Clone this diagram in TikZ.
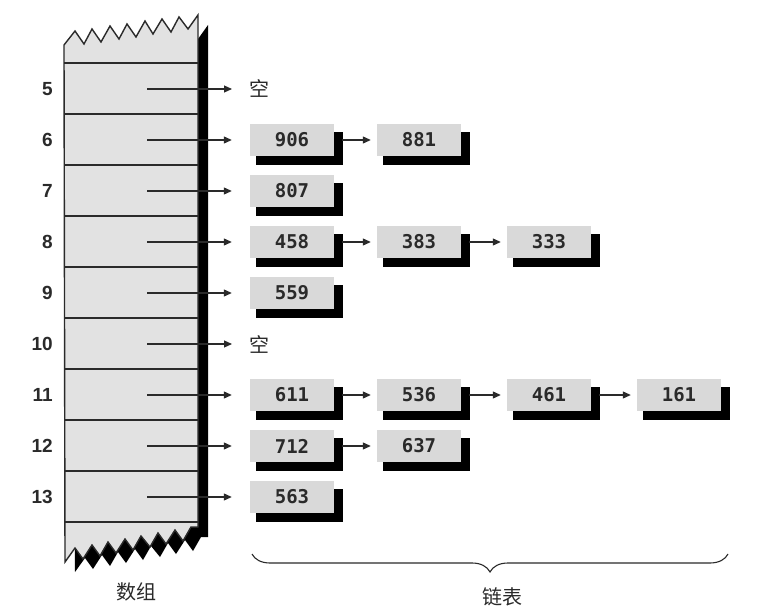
\documentclass[tikz,border=0pt]{standalone}
\usepackage{fontspec}
\usetikzlibrary{arrows.meta,shadows,decorations.pathreplacing}
\newfontfamily\boxfont{DejaVu Sans Mono}
\newfontfamily\numfont{Liberation Sans}
\newfontfamily\cjk{Noto Sans CJK SC}
\definecolor{ink}{HTML}{2A2A2A}
\definecolor{cellgray}{HTML}{E2E2E2}
\definecolor{boxgray}{HTML}{D9D9D9}
\tikzset{
  arr/.style={draw=ink, line width=1.1pt, -{Triangle[length=8pt,width=7pt]}},
  listbox/.style={fill=boxgray, minimum width=84pt, minimum height=32pt, inner sep=0pt,
    text=ink, font=\boxfont\bfseries\fontsize{19}{22}\selectfont,
    drop shadow={shadow xshift=7pt, shadow yshift=-8pt, shadow scale=1.04, fill=black, opacity=1}},
  idx/.style={text=ink, font=\numfont\bfseries\fontsize{19}{22}\selectfont, inner sep=0pt, anchor=east},
  nul/.style={text=ink, font=\cjk\fontsize{20}{24}\selectfont, inner sep=0pt, anchor=west},
  caplabel/.style={text=ink, font=\cjk\fontsize{20}{24}\selectfont, inner sep=0pt},
  rowline/.style={draw=ink, line width=1.4pt},
  arrayshape/.style={line width=1.4pt, line join=miter}
}
\begin{document}
\begin{tikzpicture}[x=1pt,y=-1pt]
\useasboundingbox[fill=white] (0,0) rectangle (774,615);
\def\arraypath{(64,45) -- (75,31) -- (84,44) -- (92,29) -- (101,42) -- (110,26) -- (119,39) -- (127,24) -- (136,37) -- (145,21) -- (153,34) -- (162,19) -- (171,32) -- (179,17) -- (188,29) -- (198,15) -- (198,527) -- (191,527) -- (183,541) -- (175,530) -- (166,544) -- (158,533) -- (150,547) -- (141,536) -- (133,550) -- (125,539) -- (116,553) -- (108,542) -- (100,556) -- (92,545) -- (83,559) -- (75,548) -- (65,562) -- cycle}
% shadow of the array
\begin{scope}
  \clip (198,0) -- (260,0) -- (260,615) -- (0,615) -- (0,480) -- (198,480) -- cycle;
  \fill[black, xshift=10pt, yshift=-10pt] \arraypath;
\end{scope}
% array body
\filldraw[arrayshape, fill=cellgray, draw=ink] \arraypath;
\foreach \yy in {63,114,165,216,267,318,369,420,471,522}
  \draw[rowline] (64,\yy) -- (198,\yy);

% index labels and arrow starts
\foreach \n/\c in {5/89,6/140,7/191,8/242,9/293,10/344,11/395,12/446,13/497}{
  \node[idx] (l\n) at (53,\c) {\n};
  \coordinate (a\n) at (147,\c);
}

% null markers
\node[nul] (e5) at (249,89) {空};
\node[nul] (e10) at (249,344) {空};

% list boxes
\node[listbox] (b6a) at (292,140) {906};
\node[listbox] (b6b) at (419,140) {881};
\node[listbox] (b7a) at (292,191) {807};
\node[listbox] (b8a) at (292,242) {458};
\node[listbox] (b8b) at (419,242) {383};
\node[listbox] (b8c) at (549,242) {333};
\node[listbox] (b9a) at (292,293) {559};
\node[listbox] (b11a) at (292,395) {611};
\node[listbox] (b11b) at (419,395) {536};
\node[listbox] (b11c) at (549,395) {461};
\node[listbox] (b11d) at (679,395) {161};
\node[listbox] (b12a) at (292,446) {712};
\node[listbox] (b12b) at (419,446) {637};
\node[listbox] (b13a) at (292,497) {563};

% arrows from array
\draw[arr] (a5) -- ([xshift=-17pt]e5.west);
\draw[arr] (a10) -- ([xshift=-17pt]e10.west);
\foreach \r in {6,7,8,9,11,12,13}
  \draw[arr] (a\r) -- ([xshift=-18pt]b\r a.west);

% arrows between list nodes
\draw[arr] ([xshift=8pt]b6a.east) -- ([xshift=-6pt]b6b.west);
\draw[arr] ([xshift=8pt]b8a.east) -- ([xshift=-6pt]b8b.west);
\draw[arr] ([xshift=8pt]b8b.east) -- ([xshift=-6pt]b8c.west);
\draw[arr] ([xshift=8pt]b11a.east) -- ([xshift=-6pt]b11b.west);
\draw[arr] ([xshift=8pt]b11b.east) -- ([xshift=-6pt]b11c.west);
\draw[arr] ([xshift=8pt]b11c.east) -- ([xshift=-6pt]b11d.west);
\draw[arr] ([xshift=8pt]b12a.east) -- ([xshift=-6pt]b12b.west);

% brace and captions
\coordinate (br) at (728,554);
\coordinate (bl) at (252,554);
\draw[ink, line width=1.1pt, decorate, decoration={brace, amplitude=18pt}] (br) -- (bl);
\node[caplabel] (arrcap) at (136,592) {数组};
\node[caplabel] (listcap) at (502,597) {链表};
\end{tikzpicture}
\end{document}
